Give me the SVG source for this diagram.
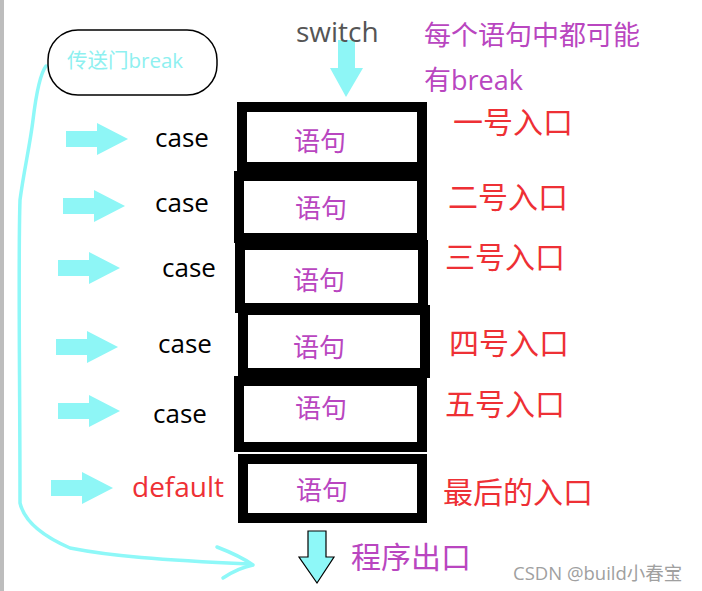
<svg xmlns="http://www.w3.org/2000/svg" xmlns:xlink="http://www.w3.org/1999/xlink" width="702" height="591" viewBox="0 0 702 591">
<defs>
<style>
.box{fill:#fff;stroke:#000;stroke-width:10}
.stmt{font-family:"Noto Sans CJK SC","Noto Sans",sans-serif;font-size:26px;fill:#b946c0;text-anchor:middle}
.case{font-family:"Open Sans","Noto Sans",sans-serif;font-size:26px;fill:#000}
.entry{font-family:"Noto Sans CJK SC",sans-serif;font-size:30px;fill:#ee3035}
.purple{font-family:"Open Sans","Noto Sans CJK SC",sans-serif;font-size:27px;fill:#b946c0}
.arrow{fill:#8ef6f6}
.trail{fill:none;stroke:#8ef8f8;stroke-width:3.5;stroke-linecap:round;stroke-linejoin:round}
</style>
<path id="ra" d="M-62,-8 H-31 V-16 L0,0 L-31,16 V8 H-62 Z"/>
</defs>
<rect x="0" y="0" width="702" height="591" fill="#fff"/>
<rect x="0" y="0" width="4" height="591" fill="#bdbdbd"/>

<g id="connectors">
<path class="trail" d="M46,66 C40,74 36,95 33,120 C30,145 24,170 20,200 C18,260 20,380 20,503 C24,520 40,535 70,548 C110,556 160,560 250,564"/>
<path class="trail" d="M217,547 C230,552 243,558 253,565 M223,578 C232,572 243,567 253,565"/>
<g class="arrow">
<use xlink:href="#ra" href="#ra" transform="translate(128,139)"/>
<use xlink:href="#ra" href="#ra" transform="translate(125,206)"/>
<use xlink:href="#ra" href="#ra" transform="translate(120,268)"/>
<use xlink:href="#ra" href="#ra" transform="translate(118,347)"/>
<use xlink:href="#ra" href="#ra" transform="translate(120,411)"/>
<use xlink:href="#ra" href="#ra" transform="translate(113,488)"/>
</g>
<path class="arrow" d="M338,40 H355 V68 H363 L346,97 L330,68 H338 Z"/>
<path d="M308,531 H326 V557 H334 L317,583 L299,557 H308 Z" fill="#8ef8f8" stroke="#000" stroke-width="1.2"/>
</g>

<g id="switch"><text x="296" y="42" font-family="Open Sans,Noto Sans,sans-serif" font-size="28" fill="#555">switch</text></g>
<g id="note">
<text class="purple" x="424" y="45">每个语句中都可能</text>
<text class="purple" x="424" y="90">有break</text>
</g>
<g id="portal">
<rect x="48" y="30" width="169" height="65" rx="30" fill="#fff" stroke="#000" stroke-width="1.5"/>
<text x="67" y="68" font-family="Open Sans,Noto Sans CJK SC,sans-serif" font-size="20.5" fill="#8ef0f0">传送门break</text>
</g>

<g id="box1"><rect class="box" x="242" y="107" width="180" height="60"/><text class="stmt" x="320" y="151">语句</text></g>
<g id="box2"><rect class="box" x="239" y="176" width="183" height="62"/><text class="stmt" x="321" y="218">语句</text></g>
<g id="box3"><rect class="box" x="240" y="245" width="183" height="63"/><text class="stmt" x="319" y="290">语句</text></g>
<g id="box4"><rect class="box" x="243" y="310" width="182" height="63"/><text class="stmt" x="319" y="357">语句</text></g>
<g id="box5"><rect class="box" x="239" y="381" width="183" height="66"/><text class="stmt" x="321" y="418">语句</text></g>
<g id="box6"><rect class="box" x="243" y="459" width="179" height="59"/><text class="stmt" x="322" y="500">语句</text></g>

<g id="cases">
<text class="case" x="155" y="147">case</text>
<text class="case" x="155" y="212">case</text>
<text class="case" x="162" y="277">case</text>
<text class="case" x="158" y="353">case</text>
<text class="case" x="153" y="423">case</text>
<text class="case" x="132" y="497" style="font-size:28px;fill:#ee3035">default</text>
</g>

<g id="entries">
<text class="entry" x="453" y="133">一号入口</text>
<text class="entry" x="448" y="208">二号入口</text>
<text class="entry" x="445" y="268">三号入口</text>
<text class="entry" x="449" y="354">四号入口</text>
<text class="entry" x="445" y="415">五号入口</text>
<text class="entry" x="443" y="503">最后的入口</text>
</g>

<g id="exit"><text x="351" y="568" font-family="Noto Sans CJK SC,sans-serif" font-size="30" fill="#b946c0">程序出口</text></g>
<text x="513" y="580" font-family="Open Sans,Noto Sans CJK SC,sans-serif" font-size="18.5" fill="#a0a0a0">CSDN @build小春宝</text>
</svg>
